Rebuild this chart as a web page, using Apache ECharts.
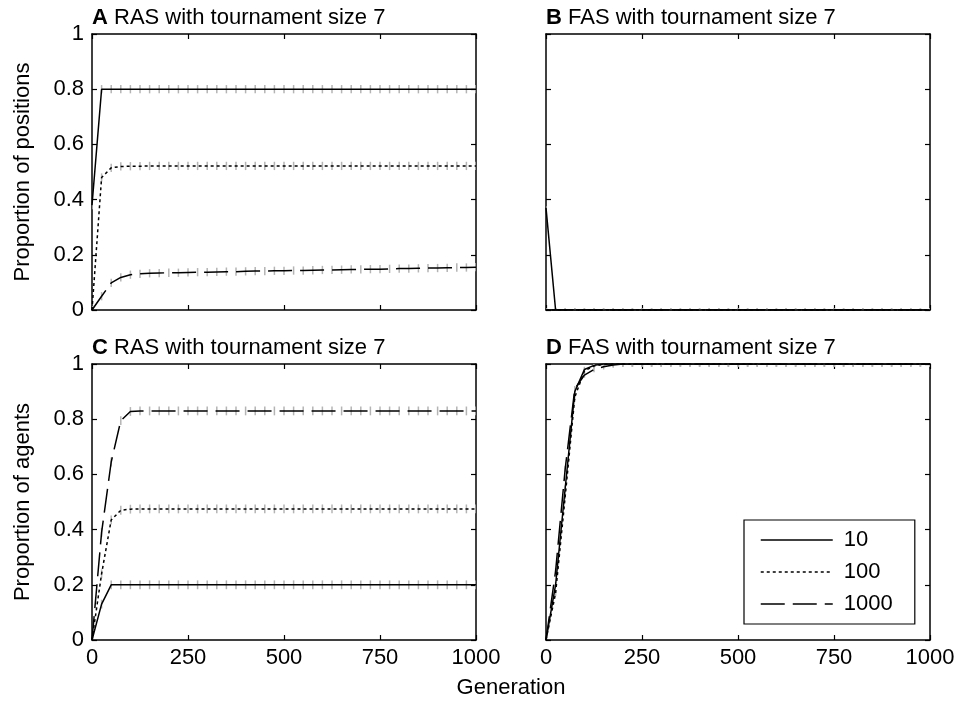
<!DOCTYPE html>
<html><head><meta charset="utf-8">
<script src="https://cdn.jsdelivr.net/npm/echarts@6/dist/echarts.min.js"></script>
<style>html,body{margin:0;padding:0;background:#fff}#c{width:960px;height:711px}</style>
</head><body><div id="c"></div>
<script>
// ---------- data ----------
const generations = [0,25,50,75,100,125,150,175,200,225,
  250,275,300,325,350,375,400,425,450,475,
  500,525,550,575,600,625,650,675,700,725,
  750,775,800,825,850,875,900,925,950,975,
  1000];
const xTickValues = [0,250,500,750,1000];
const yTickValues = [0,0.2,0.4,0.6,0.8,1];
const seriesNames = ['10','100','1000'];

// Panel A: RAS, proportion of positions
const A_10 = [0.38,0.80,0.80,0.80,0.80,0.80,0.80,0.80,0.80,0.80,
  0.80,0.80,0.80,0.80,0.80,0.80,0.80,0.80,0.80,0.80,
  0.80,0.80,0.80,0.80,0.80,0.80,0.80,0.80,0.80,0.80,
  0.80,0.80,0.80,0.80,0.80,0.80,0.80,0.80,0.80,0.80,
  0.80];
const A_100 = [0,0.48,0.515,0.52,0.521,0.521,0.522,0.522,0.522,0.522,
  0.522,0.522,0.522,0.522,0.522,0.522,0.522,0.522,0.522,0.522,
  0.522,0.522,0.522,0.522,0.522,0.522,0.522,0.522,0.522,0.522,
  0.522,0.522,0.522,0.522,0.522,0.522,0.522,0.522,0.522,0.522,
  0.522];
const A_1000 = [0,0.05,0.098,0.118,0.128,0.131,0.133,0.134,0.135,0.135,
  0.136,0.137,0.137,0.138,0.139,0.139,0.140,0.141,0.141,0.142,
  0.142,0.143,0.143,0.144,0.145,0.145,0.146,0.147,0.147,0.148,
  0.148,0.149,0.150,0.150,0.151,0.152,0.152,0.153,0.154,0.154,
  0.155];
// Panel B: FAS, proportion of positions
const B_10 = [0.37,0,0,0,0,0,0,0,0,0,
  0,0,0,0,0,0,0,0,0,0,
  0,0,0,0,0,0,0,0,0,0,
  0,0,0,0,0,0,0,0,0,0,
  0];
const B_100 = [0,0,0,0,0,0,0,0,0,0,
  0,0,0,0,0,0,0,0,0,0,
  0,0,0,0,0,0,0,0,0,0,
  0,0,0,0,0,0,0,0,0,0,
  0];
const B_1000 = [0,0,0,0,0,0,0,0,0,0,
  0,0,0,0,0,0,0,0,0,0,
  0,0,0,0,0,0,0,0,0,0,
  0,0,0,0,0,0,0,0,0,0,
  0];
// Panel C: RAS, proportion of agents
const C_10 = [0,0.13,0.20,0.20,0.20,0.20,0.20,0.20,0.20,0.20,
  0.20,0.20,0.20,0.20,0.20,0.20,0.20,0.20,0.20,0.20,
  0.20,0.20,0.20,0.20,0.20,0.20,0.20,0.20,0.20,0.20,
  0.20,0.20,0.20,0.20,0.20,0.20,0.20,0.20,0.20,0.20,
  0.20];
const C_100 = [0,0.24,0.435,0.47,0.474,0.475,0.475,0.475,0.475,0.475,
  0.475,0.475,0.475,0.475,0.475,0.475,0.475,0.475,0.475,0.475,
  0.475,0.475,0.475,0.475,0.475,0.475,0.475,0.475,0.475,0.475,
  0.475,0.475,0.475,0.475,0.475,0.475,0.475,0.475,0.475,0.475,
  0.475];
const C_1000 = [0,0.39,0.645,0.795,0.828,0.83,0.83,0.83,0.83,0.83,
  0.83,0.83,0.83,0.83,0.83,0.83,0.83,0.83,0.83,0.83,
  0.83,0.83,0.83,0.83,0.83,0.83,0.83,0.83,0.83,0.83,
  0.83,0.83,0.83,0.83,0.83,0.83,0.83,0.83,0.83,0.83,
  0.83];
// Panel D: FAS, proportion of agents
const D_10 = [0,0.20,0.55,0.90,0.98,0.995,1,1,1,1,
  1,1,1,1,1,1,1,1,1,1,
  1,1,1,1,1,1,1,1,1,1,
  1,1,1,1,1,1,1,1,1,1,
  1];
const D_100 = [0,0.17,0.52,0.88,0.975,0.993,0.998,1,1,1,
  1,1,1,1,1,1,1,1,1,1,
  1,1,1,1,1,1,1,1,1,1,
  1,1,1,1,1,1,1,1,1,1,
  1];
const D_1000 = [0,0.25,0.62,0.91,0.96,0.98,0.99,0.996,1,1,
  1,1,1,1,1,1,1,1,1,1,
  1,1,1,1,1,1,1,1,1,1,
  1,1,1,1,1,1,1,1,1,1,
  1];
// error-bar half widths per series
const errA = [0.015,0.015,0.015];
const errB = [0.006,0.006,0.006];
const errC = [0.016,0.016,0.016];
const errD = [0.01,0.01,0.01];

// ---------- layout / style ----------
const FONT = 'Liberation Sans, Arial, Helvetica, sans-serif';
const FS = 22;
const panels = [
  {letter:'A', title:' RAS with tournament size 7', series:[A_10,A_100,A_1000], err:errA, xLab:false, yLab:true, yName:'Proportion of positions', left:92, top:34},
  {letter:'B', title:' FAS with tournament size 7', series:[B_10,B_100,B_1000], err:errB, xLab:false, yLab:false, yName:'', left:546, top:34},
  {letter:'C', title:' RAS with tournament size 7', series:[C_10,C_100,C_1000], err:errC, xLab:true, yLab:true, yName:'Proportion of agents', left:92, top:364},
  {letter:'D', title:' FAS with tournament size 7', series:[D_10,D_100,D_1000], err:errD, xLab:true, yLab:false, yName:'', left:546, top:364}
];
const W = 384, H = 276;
const dashTypes = ['solid',[3,3],[24,8]];

const grid=[], xAxis=[], yAxis=[], series=[], title=[];
const axisLine = {show:true, onZero:false, lineStyle:{color:'#000', width:1.5}};
const axisTick = {show:true, inside:true, length:5, lineStyle:{color:'#000', width:1.2}};
const plainNum = v => String(v);

function renderErr(params, api){
  const x = api.value(0), y = api.value(1), e = api.value(2);
  const p1 = api.coord([x, y - e]), p2 = api.coord([x, y + e]);
  return {type:'line', shape:{x1:p1[0], y1:p1[1], x2:p2[0], y2:p2[1]},
    style:{stroke:'#b4b4b4', lineWidth:1.5}};
}

panels.forEach((p,i)=>{
  grid.push({left:p.left, top:p.top, width:W, height:H, containLabel:false});
  const xa = {type:'value', gridIndex:i, min:xTickValues[0], max:xTickValues[xTickValues.length-1],
    interval:xTickValues[1]-xTickValues[0], splitLine:{show:false}, axisLine, axisTick};
  xAxis.push(Object.assign({}, xa, {position:'bottom',
    axisLabel:{show:p.xLab, color:'#000', fontSize:FS, fontFamily:FONT, margin:7, formatter:plainNum}}));
  xAxis.push(Object.assign({}, xa, {position:'top', axisLabel:{show:false}}));
  const ya = {type:'value', gridIndex:i, min:yTickValues[0], max:yTickValues[yTickValues.length-1],
    interval:yTickValues[1]-yTickValues[0], splitLine:{show:false}, axisLine, axisTick};
  yAxis.push(Object.assign({}, ya, {position:'left',
    axisLabel:{show:p.yLab, color:'#000', fontSize:FS, fontFamily:FONT, margin:8, formatter:plainNum},
    name:p.yName, nameLocation:'middle', nameGap:58,
    nameTextStyle:{color:'#000', fontSize:FS, fontFamily:FONT}}));
  yAxis.push(Object.assign({}, ya, {position:'right', axisLabel:{show:false}}));

  p.series.forEach((vals,k)=>{
    series.push({type:'custom', name:'err'+i+k, xAxisIndex:2*i, yAxisIndex:2*i, clip:true, z:1,
      silent:true, renderItem:renderErr,
      data:generations.map((g,j)=>[g, vals[j], p.err[k]]), encode:{x:0,y:1}});
  });
  p.series.forEach((vals,k)=>{
    series.push({type:'line', name:seriesNames[k], xAxisIndex:2*i, yAxisIndex:2*i, z:3,
      symbol:'none', showSymbol:false, clip:true,
      lineStyle:{color:'#000', width:1.5, type:dashTypes[k]}, itemStyle:{color:'#000'},
      data:generations.map((g,j)=>[g, vals[j]])});
  });

  title.push({left:p.left, top:p.top-27, padding:0,
    text:'{b|'+p.letter+'}'+p.title,
    textStyle:{fontSize:FS, fontWeight:'normal', color:'#000', fontFamily:FONT,
      rich:{b:{fontSize:FS, fontWeight:'bold', color:'#000', fontFamily:FONT}}}});
});
title.push({left:511, top:677, padding:0, textAlign:'center', text:'Generation',
  textStyle:{fontSize:FS, fontWeight:'normal', color:'#000', fontFamily:FONT}});

const chart = echarts.init(document.getElementById('c'), null, {renderer:'canvas'});
chart.setOption({
  animation:false, backgroundColor:'#fff',
  title, grid, xAxis, yAxis, series,
  legend:{data:seriesNames, orient:'vertical', left:744, top:520,
    itemWidth:72, itemHeight:14, itemGap:10, padding:[9,22,9,16],
    backgroundColor:'#fff', borderColor:'#000', borderWidth:1.2, selectedMode:false,
    formatter: n => ' ' + n,
    textStyle:{fontSize:FS, color:'#000', fontFamily:FONT},
    itemStyle:{color:'rgba(0,0,0,0)', borderColor:'rgba(0,0,0,0)', borderWidth:0, opacity:0},
    lineStyle:{width:1.5, color:'#000'}}
});
</script></body></html>
